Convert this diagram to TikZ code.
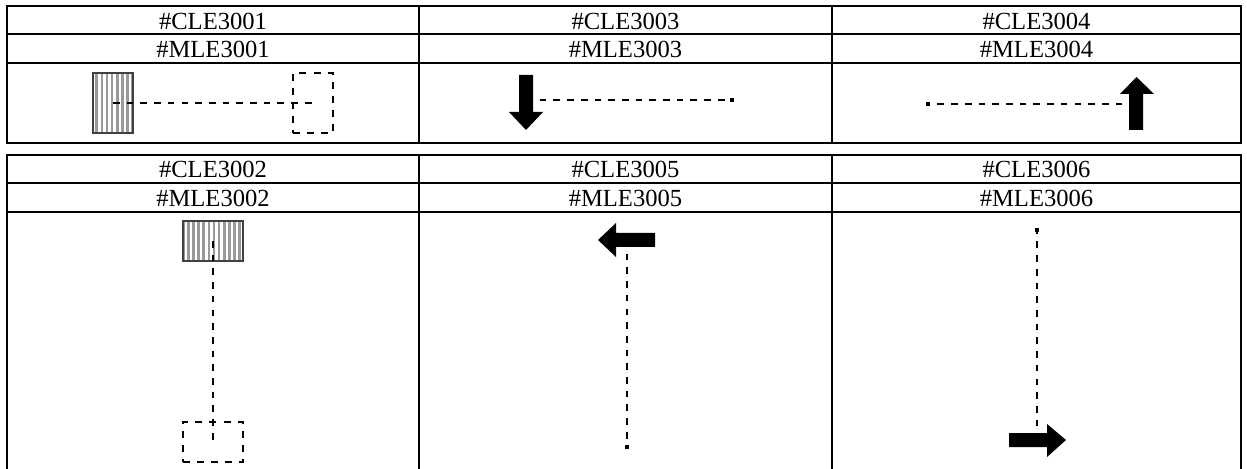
\documentclass[tikz,border=0pt]{standalone}
\usepackage{fontspec}
\setmainfont{Liberation Serif}
\usetikzlibrary{patterns.meta}
\begin{document}
\begin{tikzpicture}[x=0.02cm,y=-0.02cm,
  grid/.style={line width=0.9pt},
  label/.style={font=\fontsize{14}{16}\selectfont,inner sep=0pt,anchor=base},
  link/.style={line width=1.3pt,dash pattern=on 3.8pt off 4pt},
  stripebox/.style={draw=black!75,line width=1.3pt,inner sep=0pt,
    pattern={Lines[angle=90,distance=2.9pt,line width=1.5pt]},pattern color=gray!80},
  ghostbox/.style={draw,line width=1.3pt,dash pattern=on 4pt off 4pt,inner sep=0pt},
  tipdot/.style={fill=black}]
\useasboundingbox (0,0) rectangle (1247,469);

% upper table
\draw[grid] (7,6) rectangle (1241,143);
\draw[grid] (7,34) -- (1241,34);
\draw[grid] (7,63) -- (1241,63);
\draw[grid] (419,6) -- (419,143);
\draw[grid] (832,6) -- (832,143);

% lower table, open at the bottom
\draw[grid] (7,469) -- (7,155) -- (1241,155) -- (1241,469);
\draw[grid] (7,183) -- (1241,183);
\draw[grid] (7,212) -- (1241,212);
\draw[grid] (419,155) -- (419,469);
\draw[grid] (832,155) -- (832,469);

% headers
\foreach \cx/\ua/\ub in {213/3001/3002,625.5/3003/3005,1036.5/3004/3006} {
  \node[label] (c\ua) at (\cx,30) {\#CLE\ua};
  \node[label] (m\ua) at (\cx,58) {\#MLE\ua};
  \node[label] (c\ub) at (\cx,178) {\#CLE\ub};
  \node[label] (m\ub) at (\cx,207) {\#MLE\ub};
}

% 3001
\node[stripebox,minimum width=0.8cm,minimum height=1.2cm] (s1) at (113,103) {};
\node[ghostbox,minimum width=0.8cm,minimum height=1.2cm] (g1) at (313,103) {};
\draw[link] (s1.center) -- (g1.center);

% 3003
\fill (519,75) -- (533,75) -- (533,112) -- (543,112) -- (526,130) -- (509,112) -- (519,112) -- cycle;
\coordinate (a3) at (526,100);
\coordinate (e3) at (732,100);
\draw[link] (a3) -- (e3);
\fill[tipdot] (730,98) rectangle (734,102);

% 3004
\fill (1129,130) -- (1143,130) -- (1143,94) -- (1154,94) -- (1136.5,77) -- (1120,94) -- (1129,94) -- cycle;
\coordinate (a4) at (1136,104);
\coordinate (e4) at (928,104);
\draw[link] (a4) -- (e4);
\fill[tipdot] (926,102) rectangle (930,106);

% 3002
\node[stripebox,minimum width=1.2cm,minimum height=0.8cm] (s2) at (213,241) {};
\node[ghostbox,minimum width=1.2cm,minimum height=0.8cm] (g2) at (213,442) {};
\draw[link] (s2.center) -- (g2.center);

% 3005
\fill (655,233) -- (655,247) -- (616,247) -- (616,257) -- (598,240) -- (616,223) -- (616,233) -- cycle;
\coordinate (a5) at (627,240);
\coordinate (e5) at (627,447);
\draw[link] (a5) -- (e5);
\fill[tipdot] (625,445) rectangle (629,449);

% 3006
\fill (1009,433) -- (1047,433) -- (1047,424) -- (1066,440) -- (1047,457) -- (1047,447) -- (1009,447) -- cycle;
\coordinate (a6) at (1037,440);
\coordinate (e6) at (1037,230);
\draw[link] (a6) -- (e6);
\fill[tipdot] (1035,228) rectangle (1039,232);
\end{tikzpicture}
\end{document}
